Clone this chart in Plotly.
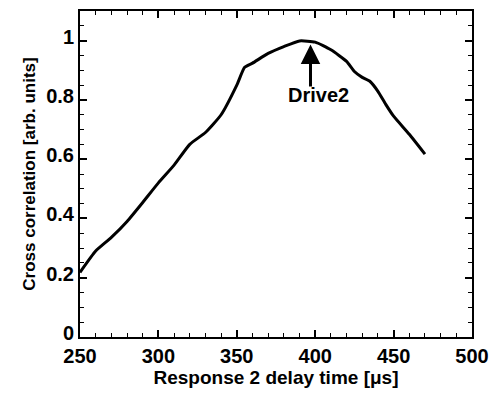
import plotly.graph_objects as go

delay_us = [250, 260, 270, 280, 290, 300, 310, 320, 330, 340, 350, 355, 360, 370, 380, 390,
            400, 410, 420, 425, 430, 435, 440, 445, 450, 460, 470]
cross_corr = [0.218, 0.29, 0.336, 0.39, 0.454, 0.52, 0.58, 0.65, 0.69, 0.75, 0.85, 0.91,
              0.924, 0.957, 0.98, 0.999, 0.995, 0.969, 0.93, 0.896, 0.876, 0.862, 0.829,
              0.785, 0.745, 0.684, 0.617]

font = "Liberation Sans, Arial, sans-serif"

fig = go.Figure()
fig.add_trace(go.Scatter(x=delay_us, y=cross_corr, mode="lines",
                         line=dict(color="black", width=3, shape="spline", smoothing=0.5),
                         showlegend=False))

axis_common = dict(
    showgrid=False, zeroline=False, showline=True, linecolor="black", linewidth=2,
    mirror="ticks", ticks="inside", ticklen=7, tickwidth=1.5, tickcolor="black",
    tickfont=dict(family=font, size=20, color="black", weight="bold"),
)

fig.update_xaxes(range=[250, 500], tickvals=[250, 300, 350, 400, 450, 500],
                 minor=dict(dtick=10, ticks="inside", ticklen=4, tickcolor="black", tickwidth=1),
                 title=dict(text="<b>Response 2 delay time [μs]</b>",
                            font=dict(family=font, size=19, color="black"), standoff=4),
                 **axis_common)
fig.update_yaxes(range=[0, 1.1], tickvals=[0, 0.2, 0.4, 0.6, 0.8, 1],
                 ticktext=["0", "0.2", "0.4", "0.6", "0.8", "1"], ticklabelshift=-4,
                 minor=dict(dtick=0.05, ticks="inside", ticklen=4, tickcolor="black", tickwidth=1),
                 title=dict(text="<b>Cross correlation [arb. units]</b>",
                            font=dict(family=font, size=17, color="black"), standoff=6),
                 **axis_common)

fig.add_annotation(x=397, y=0.987, ax=397, ay=0.84, xref="x", yref="y", axref="x", ayref="y",
                   text="", showarrow=True, arrowhead=2, arrowsize=1.3, arrowwidth=3,
                   arrowcolor="black")
fig.add_annotation(x=402, y=0.815, xref="x", yref="y", text="<b>Drive2</b>", showarrow=False,
                   font=dict(family=font, size=20, color="black"))

fig.update_layout(width=500, height=393, margin=dict(l=80, r=28, t=9, b=56),
                  plot_bgcolor="white", paper_bgcolor="white")

fig.write_html("out.html")
